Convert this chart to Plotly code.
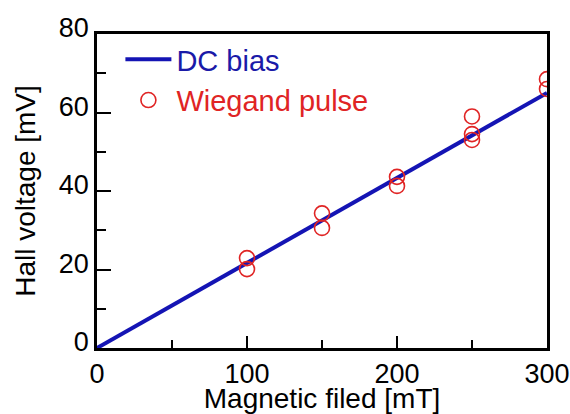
import plotly.graph_objects as go

# DC bias line (linear fit)
dc_field = [0, 300]
dc_voltage = [0, 65.0]

# Wiegand pulse measurements
pulse_field = [100, 100, 150, 150, 200, 200, 250, 250, 250, 300, 300]
pulse_voltage = [22.9, 20.1, 34.3, 30.6, 43.6, 41.3, 59.0, 54.5, 53.0, 68.5, 66.0]

x_ticks = [0, 100, 200, 300]
y_ticks = [0, 20, 40, 60, 80]

BLUE = "#1414b4"
RED = "#e02424"
FONT = "Liberation Sans, Arial, sans-serif"

fig = go.Figure()
fig.add_trace(go.Scatter(
    x=dc_field, y=dc_voltage, mode="lines",
    line=dict(color=BLUE, width=4),
    name=f"<span style='color:#1a1aa8'>DC bias</span>",
))
fig.add_trace(go.Scatter(
    x=pulse_field, y=pulse_voltage, mode="markers",
    marker=dict(symbol="circle-open", size=15, color=RED, line=dict(width=1.6, color=RED)),
    name=f"<span style='color:{RED}'>Wiegand pulse</span>",
))

axis_common = dict(
    showline=True, linecolor="black", linewidth=2.5, mirror=True,
    ticks="inside", tickcolor="black", tickwidth=2,
    showgrid=False, zeroline=False, automargin=False,
    ticklabeloverflow="allow",
    tickfont=dict(family=FONT, size=27, color="black"),
)

fig.update_xaxes(
    range=[0, 300], tickvals=x_ticks, ticklen=12,
    minor=dict(ticks="inside", dtick=50, ticklen=8, tickcolor="black", tickwidth=2),
    title=dict(text="Magnetic filed [mT]", font=dict(family=FONT, size=28, color="black"), standoff=0),
    **axis_common,
)
fig.update_yaxes(
    range=[0, 80], tickvals=y_ticks, ticklen=14,
    ticklabelshift=-6,
    minor=dict(ticks="inside", dtick=10, ticklen=9, tickcolor="black", tickwidth=2),
    title=dict(text="Hall voltage [mV]", font=dict(family=FONT, size=28, color="black"), standoff=16),
    **axis_common,
)

fig.update_layout(
    width=570, height=414,
    margin=dict(l=97, r=23, t=34, b=66),
    paper_bgcolor="white", plot_bgcolor="white",
    showlegend=True,
    legend=dict(
        x=0.052, y=1.0, xanchor="left", yanchor="top",
        bgcolor="rgba(0,0,0,0)", borderwidth=0,
        font=dict(family=FONT, size=29),
        itemwidth=46, tracegroupgap=0,
    ),
)

fig.write_html(
    "out.html",
    config={"displayModeBar": False},
    post_script="document.body.style.margin='0';document.body.style.overflow='hidden';",
)
